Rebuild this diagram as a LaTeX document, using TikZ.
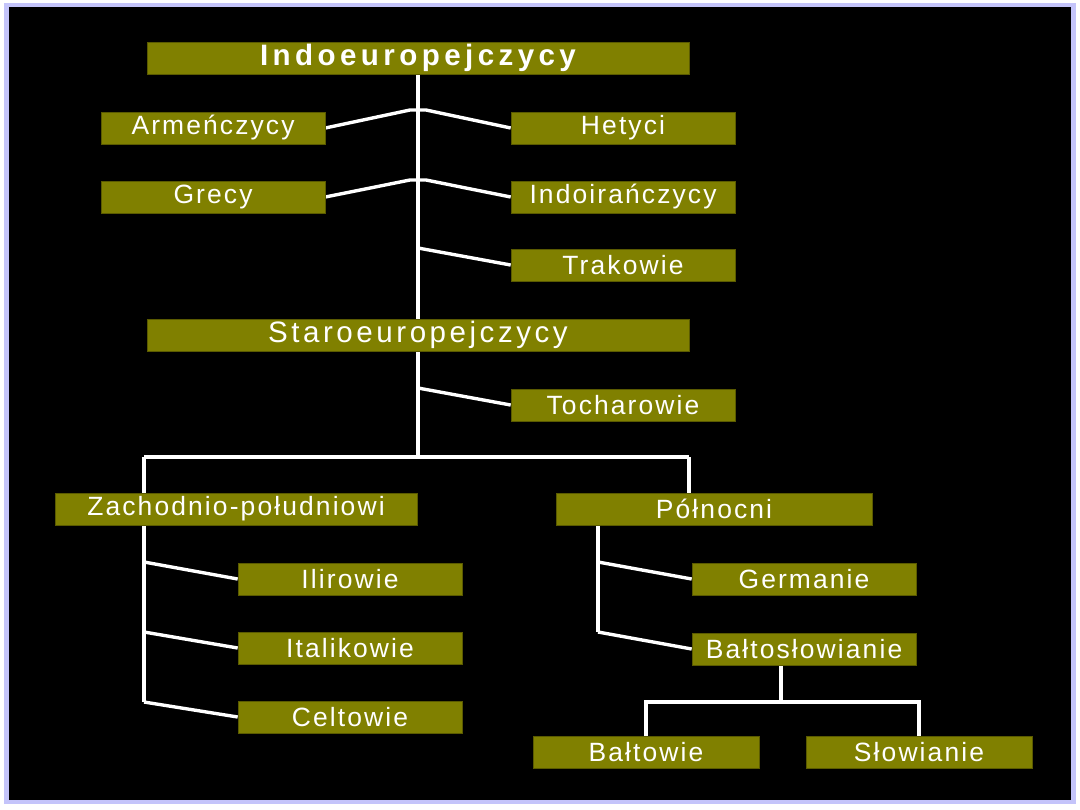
\documentclass[tikz,border=0pt]{standalone}
\usepackage{fontspec}
\setmainfont{Liberation Sans}
\definecolor{TribeOlive}{HTML}{808000}
\definecolor{TribeEdge}{HTML}{5A5A00}
\definecolor{TribeFrame}{HTML}{C4C4FA}
\usetikzlibrary{calc,backgrounds}
\pgfdeclarelayer{frame}
\pgfsetlayers{frame,background,main}

\begin{document}
\begin{tikzpicture}[x=0.025cm,y=-0.025cm,
      tribe/.style={draw=TribeEdge,fill=TribeOlive,text=white,inner sep=0pt,
                   minimum width=5.6cm,minimum height=0.8cm,
                   font=\fontsize{18.8}{18.8}\selectfont\addfontfeature{LetterSpace=8}},
      root/.style={tribe,minimum width=13.55cm,
                   font=\fontsize{21}{21}\selectfont\addfontfeature{LetterSpace=12}},
      link/.style={draw=white,line width=2.4pt}]
    % frame of the slide
    \begin{pgfonlayer}{frame}
      \fill[white] (0,0) rectangle (1080,810);
      \fill[TribeFrame] (4,3) rectangle (1076,804);
      \fill[black] (9,7) rectangle (1071,800);
    \end{pgfonlayer}
    \node[root]  (indo)   at (418,58)  {\bfseries\addfontfeature{LetterSpace=15}Indoeuropejczycy};
    \node[tribe] (arm)    at (213,128) {Armeńczycy};
    \node[tribe] (het)    at (623,128) {Hetyci};
    \node[tribe] (gre)    at (213,197) {Grecy};
    \node[tribe] (indoir) at (623,197) {Indoirańczycy};
    \node[tribe] (trak)   at (623,265) {Trakowie};
    \node[root]  (staro)  at (418,335) {Staroeuropejczycy};
    \node[tribe] (toch)   at (623,405) {Tocharowie};
    \node[tribe,minimum width=9.05cm] (zach) at (236,509) {Zachodnio-południowi};
    \node[tribe,minimum width=7.9cm]  (poln) at (714,509) {Północni};
    \node[tribe] (ilir)   at (350,579) {Ilirowie};
    \node[tribe] (ital)   at (350,648) {Italikowie};
    \node[tribe] (celt)   at (350,717) {Celtowie};
    \node[tribe] (germ)   at (804,579) {Germanie};
    \node[tribe] (balto)  at (804,649) {Bałtosłowianie};
    \node[tribe,minimum width=5.65cm] (baltow) at (646,752) {Bałtowie};
    \node[tribe,minimum width=5.65cm] (slow)   at (919,752) {Słowianie};
    % joints
    \coordinate (jArm) at (418,110);
    \coordinate (jGre) at (418,180);
    \coordinate (jTr)  at (418,248);
    \coordinate (jTo)  at (418,388);
    \coordinate (split)  at (418,457);
    \coordinate (lsplit) at (144,457);
    \coordinate (rsplit) at (689,457);
    \coordinate (jIl) at (144,562);
    \coordinate (jIt) at (144,632);
    \coordinate (jCe) at (144,702);
    \coordinate (jGe) at (598,562);
    \coordinate (jBa) at (598,632);
    \coordinate (bsplit) at (781,702);
    \begin{scope}[on background layer]
      \draw[link] (indo.south) -- (split);
      \draw[link] (lsplit) -- (rsplit);
      \draw[link] (lsplit) -- (jCe);
      \draw[link] (rsplit) -- (rsplit |- poln.north);
      \draw[link] (jGe |- poln.south) -- (jBa);
      \foreach \j/\l/\r in {jArm/arm/het,jGre/gre/indoir}
        \draw[link] (\l.east) -- ($(\j)+(-8,0)$) -- ($(\j)+(8,0)$) -- (\r.west);
      \foreach \j/\n in {jTr/trak,jTo/toch,jIl/ilir,jIt/ital,jCe/celt,jGe/germ,jBa/balto}
        \draw[link] (\j) -- (\n.west);
      \draw[link] (balto.south -| bsplit) -- (bsplit);
      \draw[link] (baltow.north) -- (baltow.north |- bsplit) -- (slow.north |- bsplit) -- (slow.north);
    \end{scope}
  \end{tikzpicture}
\end{document}
